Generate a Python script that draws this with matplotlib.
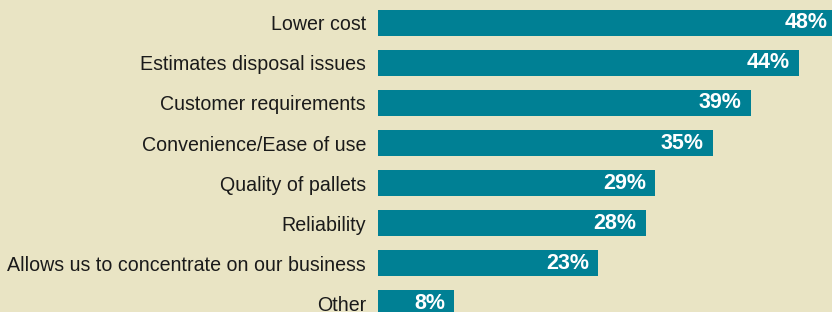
import matplotlib.pyplot as plt

plt.rcParams['font.family'] = ['Liberation Sans', 'DejaVu Sans']

categories = [
    "Lower cost",
    "Estimates disposal issues",
    "Customer requirements",
    "Convenience/Ease of use",
    "Quality of pallets",
    "Reliability",
    "Allows us to concentrate on our business",
    "Other",
]
values = [48, 44, 39, 35, 29, 28, 23, 8]

bg = '#e9e4c4'
bar_color = '#008094'

fig = plt.figure(figsize=(8.32, 3.12), dpi=100, facecolor=bg)
ax = fig.add_axes([378 / 832, 0, (832 - 378) / 832, 1])
ax.set_facecolor(bg)

pos = list(range(len(categories)))
ax.barh(pos, values, height=0.65, color=bar_color)

ax.set_xlim(0, 454 / 9.56)
ax.set_ylim(7.225, -0.575)
for s in ax.spines.values():
    s.set_visible(False)
ax.set_xticks([])
ax.set_yticks(pos)
ax.set_yticklabels(categories, fontsize=14.1, color='#1a1a1a')
ax.tick_params(axis='y', length=0, pad=8.6)

for p, v in zip(pos, values):
    ax.annotate(f"{v}%", xy=(v, p), xytext=(-6.5, 0), textcoords='offset points',
                ha='right', va='center', color='white', fontsize=15.5,
                fontweight='bold', annotation_clip=False)

fig.savefig('out.png', dpi=100, facecolor=bg)
